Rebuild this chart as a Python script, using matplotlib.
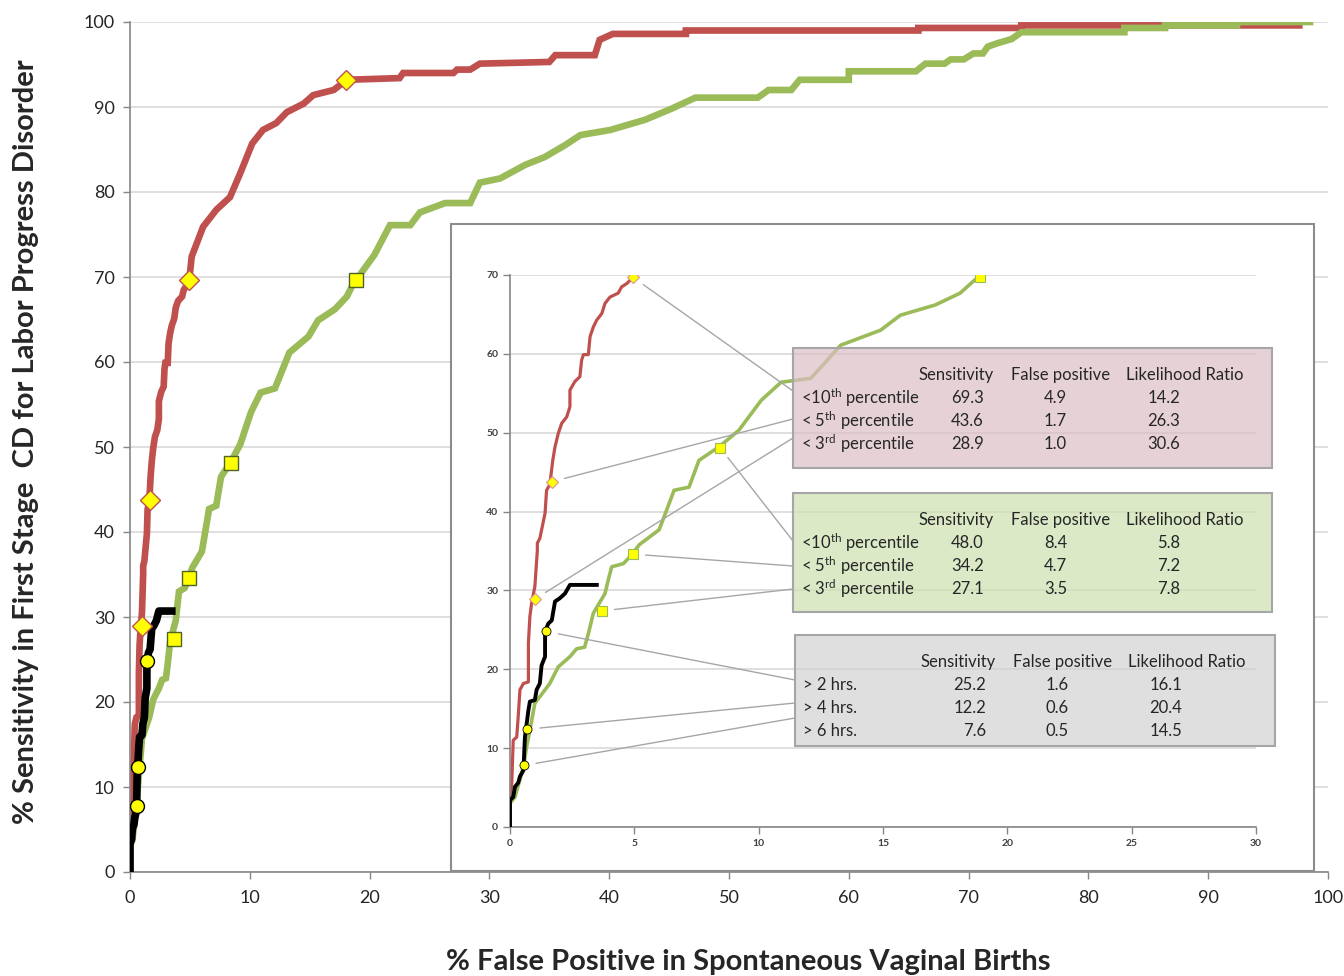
import numpy as np
import matplotlib
matplotlib.use("Agg")
import matplotlib.pyplot as plt
from matplotlib.patches import Rectangle

plt.rcParams['font.family'] = ['Lato', 'DejaVu Sans']
plt.rcParams['mathtext.fontset'] = 'custom'
plt.rcParams['mathtext.rm'] = 'Lato'
plt.rcParams['mathtext.it'] = 'Lato:italic'
plt.rcParams['mathtext.bf'] = 'Lato:bold'

# ROC curve for the percentile thresholds (red)
red_fp = [0, 0.0, 0.07, 0.13, 0.27, 0.33, 0.40, 0.54, 0.74, 0.74, 0.80, 0.87, 1.0, 1.1, 1.1, 1.2,
          1.41, 1.47, 1.6, 1.72, 1.81, 1.94, 2.08, 2.28, 2.41, 2.41, 2.61, 2.81, 2.88, 2.95, 3.15,
          3.22, 3.35, 3.49, 3.69, 3.82, 4.02, 4.35, 4.49, 4.69, 4.95, 5.15, 6.1, 7.2, 8.35, 9.2,
          10.2, 11.1, 12.2, 13.1, 14.5, 15.3, 17.0, 18.1, 22.5, 22.8, 27.0, 27.3, 28.4, 29.2,
          35.0, 35.5, 38.8, 39.2, 40.3, 46.4, 46.4, 65.8, 65.8, 74.4, 74.4, 97.6]
red_sens = [0, 3.0, 5.5, 11.0, 11.4, 14.0, 17.4, 18.2, 18.4, 23.3, 26.7, 28.4, 30.5, 35.1, 36.0, 36.6,
            39.8, 42.7, 43.4, 46.5, 48.2, 49.9, 51.2, 52.0, 53.3, 55.4, 56.5, 57.1, 59.2, 59.9, 59.9,
            62.2, 63.4, 64.3, 65.1, 66.4, 67.2, 67.7, 68.5, 68.9, 69.7, 72.4, 75.9, 77.9, 79.4, 82.2,
            85.7, 87.3, 88.1, 89.4, 90.4, 91.4, 92.0, 93.2, 93.4, 94.0, 94.0, 94.4, 94.4, 95.1,
            95.3, 96.1, 96.1, 97.9, 98.6, 98.6, 99.0, 99.0, 99.3, 99.3, 99.6, 99.6]

# ROC curve for the second percentile based rule (green)
green_fp = [0, 0.0, 0.2, 0.54, 0.67, 0.8, 1.0, 1.41, 1.6, 1.94, 2.41, 2.68, 3.0, 3.15, 3.35, 3.82,
            3.95, 4.09, 4.56, 4.89, 5.2, 6.0, 6.6, 7.2, 7.6, 8.4, 9.2, 10.1, 10.9, 12.1, 13.3, 14.9,
            15.7, 17.1, 18.1, 18.7, 18.9, 20.4, 21.7, 23.4, 24.2, 26.3, 28.4, 29.2, 30.9, 33.0,
            34.6, 36.3, 37.6, 40.1, 43.0, 45.2, 47.2, 52.4, 53.3, 55.2, 55.9, 60.0, 60.0, 65.6,
            66.4, 68.0, 68.5, 69.6, 70.4, 71.2, 71.6, 72.4, 73.6, 74.4, 83.0, 83.0, 86.4, 86.4,
            92.4, 92.4, 98.5]
green_sens = [0, 3.0, 3.8, 7.6, 10.2, 12.3, 15.7, 17.4, 18.2, 20.3, 21.6, 22.6, 22.8, 24.5, 27.1,
              29.6, 31.3, 33.0, 33.4, 34.5, 35.8, 37.7, 42.7, 43.1, 46.5, 48.2, 50.3, 54.1, 56.4,
              56.9, 61.1, 63.0, 64.9, 66.2, 67.7, 69.4, 69.7, 72.6, 76.1, 76.1, 77.6, 78.7, 78.7,
              81.1, 81.6, 83.2, 84.1, 85.5, 86.7, 87.3, 88.5, 89.8, 91.1, 91.1, 92.0, 92.0, 93.2,
              93.2, 94.2, 94.2, 95.1, 95.1, 95.6, 95.6, 96.3, 96.3, 97.1, 97.5, 98.0, 98.8, 98.8,
              99.3, 99.3, 99.6, 99.6, 100, 100]

# ROC curve for duration in hours (black)
black_fp = [0, 0, 0.13, 0.2, 0.33, 0.4, 0.54, 0.6, 0.74, 0.8, 1.0, 1.07, 1.2, 1.27, 1.41, 1.41,
            1.54, 1.68, 1.81, 2.0, 2.21, 2.41, 3.49]
black_sens = [0, 3.4, 3.8, 5.1, 5.6, 6.4, 7.2, 11.4, 14.8, 15.9, 16.1, 17.4, 18.2, 20.5, 21.6, 24.8,
              25.8, 26.2, 28.6, 29.0, 29.6, 30.7, 30.7]

# highlighted cut-off points
red_mk_fp = [1.0, 1.7, 4.95, 18.0]
red_mk_sens = [28.9, 43.8, 69.7, 93.2]
green_mk_fp = [3.7, 4.95, 8.45, 18.9]
green_mk_sens = [27.4, 34.6, 48.1, 69.7]
black_mk_fp = [0.55, 0.7, 1.45]
black_mk_sens = [7.8, 12.4, 24.8]

# tables
pct_rows = ['<10$^{\\mathrm{th}}$ percentile', '< 5$^{\\mathrm{th}}$ percentile',
            '< 3$^{\\mathrm{rd}}$ percentile']
hrs_rows = ['> 2 hrs.', '> 4 hrs.', '> 6 hrs.']
col_heads = ['Sensitivity', 'False positive', 'Likelihood Ratio']
red_tab = [['69.3', '4.9', '14.2'], ['43.6', '1.7', '26.3'], ['28.9', '1.0', '30.6']]
green_tab = [['48.0', '8.4', '5.8'], ['34.2', '4.7', '7.2'], ['27.1', '3.5', '7.8']]
black_tab = [['25.2', '1.6', '16.1'], ['12.2', '0.6', '20.4'], ['7.6', '0.5', '14.5']]

RED = '#c0504d'
GREEN = '#9bbb59'
GRID = '#d9d9d9'
SPINE = '#868686'

W, H = 1344, 976
fig = plt.figure(figsize=(W / 100, H / 100), dpi=100)


def fx(px):
    return px / W


def fy(py):
    return 1 - py / H


def style_axes(ax, size, color):
    ax.set_axisbelow(True)
    ax.grid(axis='y', color=GRID, lw=1.2)
    for s in ['top', 'right']:
        ax.spines[s].set_visible(False)
    for s in ['left', 'bottom']:
        ax.spines[s].set_color(SPINE)
        ax.spines[s].set_linewidth(1.2)
    ax.tick_params(colors=SPINE, labelcolor=color, labelsize=size, length=5, width=1)


# main chart
ax = fig.add_axes([fx(130), fy(872), fx(1328) - fx(130), fy(22) - fy(872)])
ax.plot(red_fp, red_sens, color=RED, lw=4.8, solid_joinstyle='miter', zorder=2)
ax.plot(green_fp, green_sens, color=GREEN, lw=4.8, solid_joinstyle='miter', zorder=2)
ax.plot(black_fp, black_sens, color='black', lw=5.5, zorder=3)
ax.plot(red_mk_fp, red_mk_sens, 'D', ms=10, mfc='#ffff00', mec='#c0504d', mew=1, zorder=4)
ax.plot(green_mk_fp, green_mk_sens, 's', ms=10, mfc='#ffff00', mec='#4f6228', mew=1, zorder=4)
ax.plot(black_mk_fp, black_mk_sens, 'o', ms=10, mfc='#ffff00', mec='black', mew=1, zorder=4)
ax.set_xlim(0, 100)
ax.set_ylim(0, 100)
ax.set_xticks(np.arange(0, 101, 10))
ax.set_yticks(np.arange(0, 101, 10))
style_axes(ax, 13, '#262626')
ax.tick_params(axis='x', pad=8)
ax.tick_params(axis='y', pad=6)

fig.text(fx(26), fy(442), '% Sensitivity in First Stage  CD for Labor Progress Disorder',
         rotation=90, ha='center', va='center', fontsize=21, fontweight='bold', color='#262626')
fig.text(fx(748), fy(962), '% False Positive in Spontaneous Vaginal Births',
         ha='center', va='center', fontsize=21, fontweight='bold', color='#262626')

# inset frame
fig.patches.append(Rectangle((fx(451), fy(871)), fx(1314) - fx(451), fy(224) - fy(871),
                             transform=fig.transFigure, facecolor='white', edgecolor='#8c8c8c',
                             lw=1.5, zorder=1))

# inset zoom of the low false positive range
axi = fig.add_axes([fx(510), fy(827), fx(1256) - fx(510), fy(275) - fy(827)], zorder=2)
n_red = sum(1 for s in red_sens if s <= 70)
n_green = sum(1 for s in green_sens if s <= 70)
axi.plot(red_fp[:n_red], red_sens[:n_red], color=RED, lw=2.3, zorder=2)
axi.plot(green_fp[:n_green], green_sens[:n_green], color=GREEN, lw=2.6, zorder=2)
axi.plot(black_fp, black_sens, color='black', lw=2.8, zorder=3)
axi.plot(red_mk_fp[:3], red_mk_sens[:3], 'D', ms=6.5, mfc='#ffff00', mec='#d99694', mew=0.8, zorder=4)
axi.plot(green_mk_fp, green_mk_sens, 's', ms=6.5, mfc='#ffff00', mec='#9bbb59', mew=0.8, zorder=4)
axi.plot(black_mk_fp, black_mk_sens, 'o', ms=6.5, mfc='#ffff00', mec='black', mew=0.6, zorder=4)
axi.set_xlim(0, 30)
axi.set_ylim(0, 70)
axi.set_xticks(np.arange(0, 31, 5))
axi.set_yticks(np.arange(0, 71, 10))
style_axes(axi, 7.5, '#404040')
for lab in axi.get_xticklabels() + axi.get_yticklabels():
    lab.set_fontweight('bold')

# summary tables drawn over the inset
boxes = [(red_tab, pct_rows, '#dcbfc5', 348, 468, 793, 1272),
         (green_tab, pct_rows, '#cde1b0', 493, 612, 793, 1272),
         (black_tab, hrs_rows, '#d2d2d2', 635, 746, 795, 1275)]

for tab, rows, bg, top, bot, left, right in boxes:
    fig.patches.append(Rectangle((fx(left), fy(bot)), fx(right) - fx(left), fy(top) - fy(bot),
                                 transform=fig.transFigure, facecolor=bg, alpha=0.7,
                                 edgecolor='none', zorder=5))
    fig.patches.append(Rectangle((fx(left), fy(bot)), fx(right) - fx(left), fy(top) - fy(bot),
                                 transform=fig.transFigure, facecolor='none',
                                 edgecolor='#a6a6a6', lw=1.5, zorder=5))
    head_y = top + 27
    for j, h in enumerate(col_heads):
        fig.text(fx([956, 1061, 1185][j] + left - 793), fy(head_y), h, ha='center', va='center',
                 fontsize=12, color='#262626', zorder=6)
    for i, row in enumerate(rows):
        ry = head_y + 23 * (i + 1)
        fig.text(fx(left + 8), fy(ry), row, ha='left', va='center', fontsize=12,
                 color='#262626', zorder=6)
        for j, v in enumerate(tab[i]):
            fig.text(fx([984, 1067, 1180][j] + left - 793), fy(ry), v, ha='right', va='center',
                     fontsize=12, color='#262626', zorder=6)

# connectors: marker -> table row edge
links = [(red_mk_fp[2], red_mk_sens[2], 793, 391), (red_mk_fp[1], red_mk_sens[1], 793, 419),
         (red_mk_fp[0], red_mk_sens[0], 793, 438),
         (green_mk_fp[2], green_mk_sens[2], 793, 541), (green_mk_fp[1], green_mk_sens[1], 793, 566),
         (green_mk_fp[0], green_mk_sens[0], 793, 589),
         (black_mk_fp[2], black_mk_sens[2], 795, 680), (black_mk_fp[1], black_mk_sens[1], 795, 703),
         (black_mk_fp[0], black_mk_sens[0], 795, 718)]
for mx, my, px, py in links:
    axi.annotate('', xy=(mx, my), xycoords='data', xytext=(fx(px), fy(py)),
                 textcoords='figure fraction',
                 arrowprops=dict(arrowstyle='-', color='#a6a6a6', lw=1, shrinkA=0, shrinkB=9),
                 annotation_clip=False, zorder=3)

fig.savefig('out.png', dpi=100)
